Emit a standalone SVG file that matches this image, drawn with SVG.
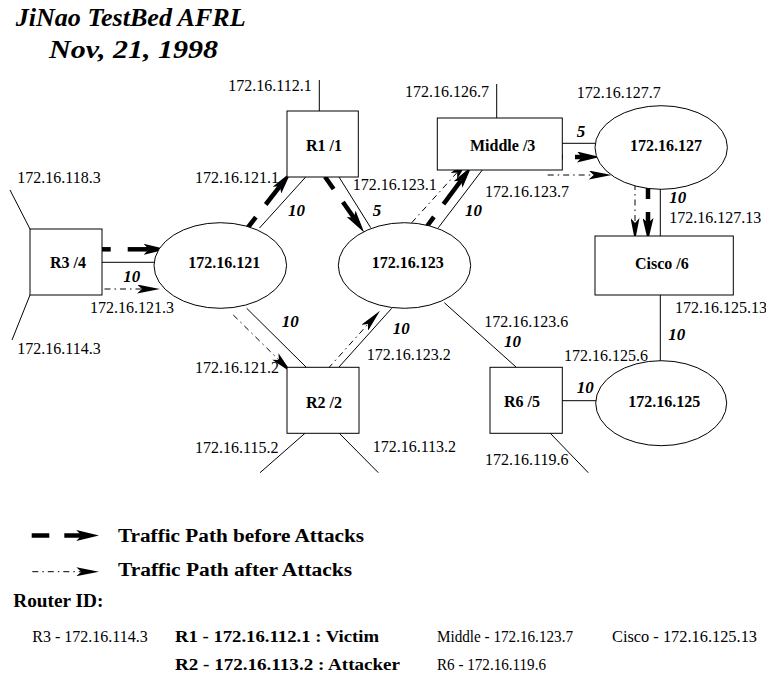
<svg xmlns="http://www.w3.org/2000/svg" width="766" height="679" viewBox="0 0 766 679">
  <style>
    .box { fill: #fff; stroke: #000; stroke-width: 1; }
    .net { fill: #fff; stroke: #000; stroke-width: 1; }
    .link { stroke: #000; stroke-width: 1; fill: none; }
    .before { stroke: #000; stroke-width: 4.5; fill: none; }
    .after { stroke: #000; stroke-width: 1; fill: none; stroke-dasharray: 6 4 1.5 4; }
    .ip { font-family: "Liberation Serif", "Times New Roman", serif; font-size: 16px; fill: #000; }
    .lbl { font-family: "Liberation Serif", "Times New Roman", serif; font-size: 16px; font-weight: bold; fill: #000; }
    .w { font-family: "Liberation Serif", "Times New Roman", serif; font-size: 17px; font-weight: bold; font-style: italic; fill: #000; }
    .wide { font-family: "Liberation Serif", "Times New Roman", serif; font-weight: bold; fill: #000; }
    .title { font-family: "Liberation Serif", "Times New Roman", serif; font-size: 25px; font-weight: bold; font-style: italic; fill: #000; }
    .date { font-family: "Liberation Serif", "Times New Roman", serif; font-size: 25px; font-weight: bold; font-style: italic; fill: #000; }
  </style>
  <defs>
    <marker id="head" markerUnits="userSpaceOnUse" viewBox="0 0 23 11" markerWidth="23" markerHeight="11" refX="5" refY="5.5" orient="auto">
      <path d="M0,0 L23,5.5 L0,11 L5,5.5 Z" fill="#000"/>
    </marker>
    <marker id="headThin" markerUnits="userSpaceOnUse" viewBox="0 0 23 9" markerWidth="23" markerHeight="9" refX="5" refY="4.5" orient="auto">
      <path d="M0,0 L23,4.5 L0,9 L5,4.5 Z" fill="#000"/>
    </marker>
  </defs>

  <rect width="766" height="679" fill="#fff"/>

  <!-- heading -->
  <text class="title" x="15.7" y="26" textLength="230" lengthAdjust="spacingAndGlyphs">JiNao TestBed AFRL</text>
  <text class="date" x="49" y="57.5" textLength="169" lengthAdjust="spacingAndGlyphs">Nov, 21, 1998</text>

  <!-- links and traffic paths -->
  <g id="connectors">
    <!-- physical links -->
    <line class="link" x1="102" y1="262.3" x2="154" y2="262.3"/>
    <line class="link" x1="259.5" y1="228" x2="305.7" y2="177"/>
    <line class="link" x1="339" y1="177" x2="370.7" y2="227.7"/>
    <line class="link" x1="438.3" y1="227.7" x2="482.3" y2="170"/>
    <line class="link" x1="562" y1="143.3" x2="595" y2="143.3"/>
    <line class="link" x1="660.3" y1="189" x2="660.3" y2="236"/>
    <line class="link" x1="660.3" y1="295" x2="660.3" y2="361"/>
    <line class="link" x1="562" y1="400.7" x2="596" y2="400.7"/>
    <line class="link" x1="444.3" y1="302.7" x2="516" y2="367"/>
    <line class="link" x1="246.7" y1="308.3" x2="306" y2="367"/>
    <line class="link" x1="391.7" y1="308.3" x2="339" y2="367"/>
    <!-- stub networks -->
    <line class="link" x1="319.3" y1="80" x2="319.3" y2="111"/>
    <line class="link" x1="496.7" y1="84" x2="496.7" y2="118"/>
    <line class="link" x1="30" y1="229" x2="10" y2="190"/>
    <line class="link" x1="30" y1="295" x2="12" y2="340"/>
    <line class="link" x1="305.3" y1="433" x2="260" y2="472.7"/>
    <line class="link" x1="339" y1="433" x2="378.3" y2="472.7"/>
    <line class="link" x1="550" y1="433" x2="588.3" y2="472.7"/>

    <!-- traffic path before attacks -->
    <line class="before" x1="95.7" y1="249.3" x2="110.7" y2="249.3"/>
    <line class="before" x1="127.7" y1="249.3" x2="148.7" y2="249.3" marker-end="url(#head)"/>
    <line class="before" x1="246.7" y1="229" x2="255.9" y2="217.2"/>
    <line class="before" x1="265.7" y1="204.5" x2="280" y2="186.2" marker-end="url(#head)"/>
    <line class="before" x1="325" y1="176.7" x2="333.6" y2="189"/>
    <line class="before" x1="342.9" y1="202" x2="353.9" y2="217.8" marker-end="url(#head)"/>
    <line class="before" x1="425" y1="229" x2="433.9" y2="216.9"/>
    <line class="before" x1="443.5" y1="204.1" x2="461" y2="180.5" marker-end="url(#head)"/>
    <line class="before" x1="556" y1="157" x2="563" y2="157"/>
    <line class="before" x1="575" y1="157" x2="582" y2="157" marker-end="url(#head)"/>
    <line class="before" x1="648" y1="184" x2="648" y2="199"/>
    <line class="before" x1="648" y1="212" x2="648" y2="223" marker-end="url(#head)"/>

    <!-- traffic path after attacks -->
    <line class="after" x1="89" y1="289" x2="142" y2="289" marker-end="url(#headThin)"/>
    <line class="after" x1="233.3" y1="315" x2="278.9" y2="360" marker-end="url(#headThin)"/>
    <line class="after" x1="328.3" y1="368.3" x2="368" y2="324.1" marker-end="url(#headThin)"/>
    <line class="after" x1="411.7" y1="222.7" x2="457.2" y2="172.4" marker-end="url(#headThin)"/>
    <line class="after" x1="547.7" y1="175" x2="593.7" y2="175" marker-end="url(#headThin)"/>
    <line class="after" x1="635" y1="184" x2="635" y2="223" marker-end="url(#headThin)"/>
  </g>

  <!-- routers -->
  <g id="r3">
    <rect class="box" x="30" y="229" width="72" height="66"/>
    <text class="lbl" x="50" y="268.3">R3 /4</text>
  </g>
  <g id="r1">
    <rect class="box" x="287" y="111" width="71.3" height="66"/>
    <text class="lbl" x="306" y="151">R1 /1</text>
  </g>
  <g id="middle">
    <rect class="box" x="437.3" y="118" width="125" height="52"/>
    <text class="lbl" x="470" y="151">Middle /3</text>
  </g>
  <g id="cisco">
    <rect class="box" x="595" y="236" width="138.3" height="59"/>
    <text class="lbl" x="635" y="269">Cisco /6</text>
  </g>
  <g id="r2">
    <rect class="box" x="287" y="367.3" width="72" height="66"/>
    <text class="lbl" x="306" y="407.7">R2 /2</text>
  </g>
  <g id="r6">
    <rect class="box" x="490" y="367.3" width="72.3" height="66"/>
    <text class="lbl" x="504" y="407.3">R6 /5</text>
  </g>

  <!-- subnets -->
  <g id="net121">
    <ellipse class="net" cx="220.3" cy="265.5" rx="66.3" ry="42.8"/>
    <text class="lbl" x="188.3" y="268.3">172.16.121</text>
  </g>
  <g id="net123">
    <ellipse class="net" cx="404.5" cy="265.5" rx="66.2" ry="42.8"/>
    <text class="lbl" x="371.7" y="268.3">172.16.123</text>
  </g>
  <g id="net127">
    <ellipse class="net" cx="661.2" cy="147.5" rx="66.2" ry="41.8"/>
    <text class="lbl" x="630" y="150.7">172.16.127</text>
  </g>
  <g id="net125">
    <ellipse class="net" cx="661.2" cy="403.2" rx="65.5" ry="42.5"/>
    <text class="lbl" x="628.3" y="407.3">172.16.125</text>
  </g>

  <!-- interface addresses -->
  <g id="addresses">
    <text class="ip" x="228.3" y="91">172.16.112.1</text>
    <text class="ip" x="405" y="97.3">172.16.126.7</text>
    <text class="ip" x="576.7" y="98.3">172.16.127.7</text>
    <text class="ip" x="485" y="196.7">172.16.123.7</text>
    <text class="ip" x="669.3" y="222.7">172.16.127.13</text>
    <text class="ip" x="675" y="313.3">172.16.125.13</text>
    <text class="ip" x="564" y="360.7">172.16.125.6</text>
    <text class="ip" x="485" y="465">172.16.119.6</text>
    <text class="ip" x="372.7" y="451.7">172.16.113.2</text>
    <text class="ip" x="484.3" y="327.3">172.16.123.6</text>
    <text class="ip" x="366.7" y="360">172.16.123.2</text>
    <text class="ip" x="195" y="373.3">172.16.121.2</text>
    <text class="ip" x="195" y="452.7">172.16.115.2</text>
    <text class="ip" x="17.3" y="354">172.16.114.3</text>
    <text class="ip" x="90" y="313.3">172.16.121.3</text>
    <text class="ip" x="17.3" y="183.3">172.16.118.3</text>
    <text class="ip" x="195" y="183.3">172.16.121.1</text>
    <text class="ip" x="352.7" y="190">172.16.123.1</text>
  </g>

  <!-- link costs -->
  <g id="costs">
    <text class="w" x="123.3" y="281.7">10</text>
    <text class="w" x="288" y="215.7">10</text>
    <text class="w" x="372.7" y="215.7">5</text>
    <text class="w" x="465" y="215.7">10</text>
    <text class="w" x="576.7" y="136.5">5</text>
    <text class="w" x="669.3" y="202.7">10</text>
    <text class="w" x="668.3" y="340">10</text>
    <text class="w" x="576.7" y="393.3">10</text>
    <text class="w" x="504" y="346.7">10</text>
    <text class="w" x="392.7" y="334">10</text>
    <text class="w" x="281.7" y="326.7">10</text>
  </g>

  <!-- key -->
  <g id="legend">
    <line class="before" x1="31.7" y1="535.5" x2="49.3" y2="535.5"/>
    <line class="before" x1="64.3" y1="535.5" x2="81.3" y2="535.5" marker-end="url(#head)"/>
    <text class="wide" x="118" y="541.7" font-size="18" textLength="246" lengthAdjust="spacingAndGlyphs">Traffic Path before Attacks</text>
    <line class="after" x1="32.3" y1="571.7" x2="81.3" y2="571.7" marker-end="url(#headThin)"/>
    <text class="wide" x="118" y="576" font-size="18" textLength="234" lengthAdjust="spacingAndGlyphs">Traffic Path after Attacks</text>
    <text class="wide" x="13.3" y="607" font-size="18" textLength="90" lengthAdjust="spacingAndGlyphs">Router ID:</text>

    <text class="ip" x="32.3" y="641.7">R3 - 172.16.114.3</text>
    <text class="wide" x="175" y="641.7" font-size="16" textLength="204" lengthAdjust="spacingAndGlyphs">R1 - 172.16.112.1 : Victim</text>
    <text class="ip" x="437" y="641.7" textLength="136" lengthAdjust="spacingAndGlyphs">Middle - 172.16.123.7</text>
    <text class="ip" x="612" y="641.7" textLength="145" lengthAdjust="spacingAndGlyphs">Cisco - 172.16.125.13</text>
    <text class="wide" x="175" y="670" font-size="16" textLength="225" lengthAdjust="spacingAndGlyphs">R2 - 172.16.113.2 : Attacker</text>
    <text class="ip" x="437" y="670" textLength="109" lengthAdjust="spacingAndGlyphs">R6 - 172.16.119.6</text>
  </g>
</svg>
